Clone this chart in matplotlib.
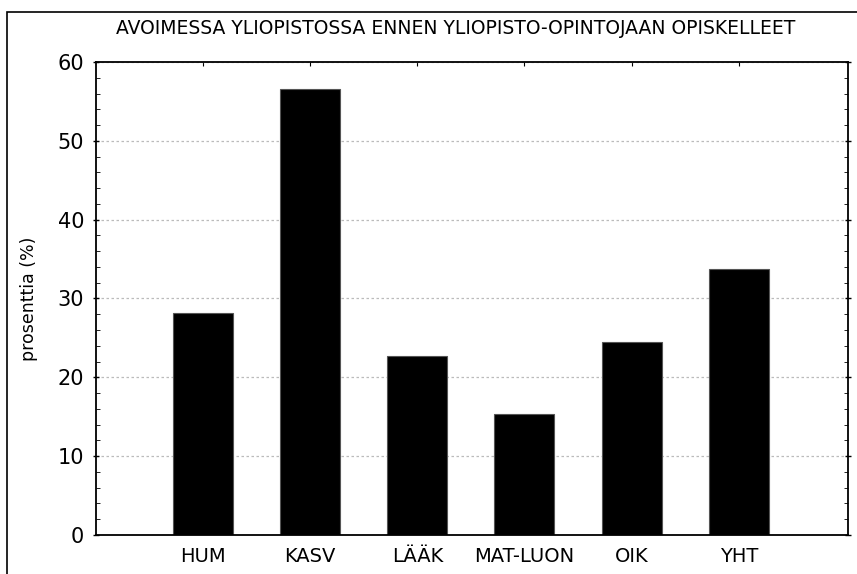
import matplotlib.pyplot as plt
from matplotlib.patches import Rectangle
from matplotlib.ticker import MultipleLocator

categories = ['HUM', 'KASV', 'LÄÄK', 'MAT-LUON', 'OIK', 'YHT']
values = [28.1, 56.6, 22.7, 15.4, 24.5, 33.7]
title = 'AVOIMESSA YLIOPISTOSSA ENNEN YLIOPISTO-OPINTOJAAN OPISKELLEET'

fig = plt.figure(figsize=(8.57, 5.74), dpi=100)
ax = fig.add_axes([0.112, 0.068, 0.8775, 0.824])

x = list(range(len(categories)))
ax.bar(x, values, width=0.56, color='black', edgecolor='#555555', linewidth=0.8, zorder=2)

ax.set_xlim(-1.0, 6.02)
ax.set_ylim(0, 60)
ax.set_xticks(x)
ax.set_xticklabels(categories, fontsize=14)
ax.yaxis.set_major_locator(MultipleLocator(10))
ax.yaxis.set_minor_locator(MultipleLocator(2))
ax.tick_params(axis='y', which='major', labelsize=15, direction='inout', length=5,
               right=True, width=1, pad=6)
ax.tick_params(axis='y', which='minor', direction='in', length=3, right=True)
ax.tick_params(axis='x', which='major', bottom=False, top=True, direction='in', length=3, pad=9)
ax.set_ylabel('prosenttia (%)', fontsize=12.5, labelpad=14)

ax.grid(axis='y', which='major', linestyle=(0, (2, 2)), color='#bbbbbb', linewidth=0.9, zorder=0)
ax.set_axisbelow(True)
for s in ax.spines.values():
    s.set_linewidth(1.3)

# outer frame (left and top edges show)
fig.patches.append(Rectangle((7 / 857, -0.1), 1.2, 1 - 12 / 574 + 0.1, transform=fig.transFigure,
                             fill=False, edgecolor='black', linewidth=1.2))
fig.text(0.532, 1 - 29 / 574, title, ha='center', va='center', fontsize=13.5)

fig.savefig('out.png', dpi=100)
